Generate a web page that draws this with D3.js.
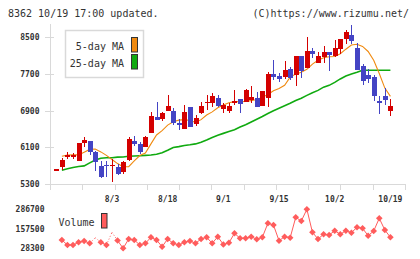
<!DOCTYPE html>
<html>
<head>
<meta charset="utf-8">
<script src="https://cdn.jsdelivr.net/npm/d3@7"></script>
<style>
  html, body { margin: 0; padding: 0; background: #fff; }
  svg { display: block; }
  text { font-family: "DejaVu Sans Mono", "Liberation Mono", monospace; fill: #333; }
</style>
</head>
<body>
<svg id="chart" width="420" height="259"></svg>
<script>
// ---- data ----
const openP  = [5615,5672,5890,5877,5803,6196,6233,6000,5694,5709,5700,5672,5549,5818,6233,6161,6109,6415,6765,6714,
                6890,6889,6620,6496,6970,6605,6839,7070,7071,7167,6933,6896,7057,7152,7093,7130,7180,7005,7167,7698,
                7654,7639,7807,7676,8091,7836,8201,7945,8077,8179,8085,8252,8457,8544,8267,7873,7683,7632,7108,7217,6883];
const highP  = [5615,5862,5993,5978,6190,6327,6240,6010,5796,5790,5850,5740,5790,6327,6343,6218,6343,6861,7093,6874,
                7239,6954,6710,7020,6975,6802,7093,7239,7289,7239,7071,7057,7348,7160,7377,7436,7305,7330,7735,8004,
                7727,7982,7858,8095,8095,8513,8260,8186,8310,8185,8435,8457,8653,8776,8384,7923,7814,7670,7217,7392,7158];
const lowP   = [5615,5600,5833,5833,5795,6109,5927,5584,5431,5450,5344,5500,5510,5796,6124,5949,6102,6400,6686,6677,
                6889,6583,6480,6496,6540,6561,6824,6911,6983,6983,6839,6839,7020,6839,7079,7071,6980,7000,6983,7567,
                7516,7589,7567,7442,7604,7822,8055,7940,7945,7757,8080,8128,8354,8354,7779,7451,7508,7108,6830,7027,6780];
const closeP = [5615,5818,5921,5934,6183,6255,5986,5768,5453,5680,5712,5520,5774,6277,6170,6000,6327,6780,6700,6845,
                6999,6620,6590,6874,6546,6730,6999,7090,7217,6990,7020,6999,7108,7049,7348,7202,6983,7327,7698,7639,
                7590,7785,7617,8091,7763,8201,8135,8091,8186,8106,8267,8457,8617,8413,7779,7545,7595,7217,7071,7123,6999];
const ma5  = [null,5900,5925,5930,5930,5990,6050,6058,5995,5920,5830,5740,5672,5672,5800,5915,5970,6170,6365,6460,
              6580,6655,6690,6700,6680,6640,6700,6800,6870,6960,7020,7070,7093,7093,7100,7115,7140,7190,7250,7330,
              7380,7450,7630,7695,7735,7800,7915,8000,8055,8075,8080,8140,8240,8330,8347,8300,8190,8000,7710,7390,7210];
const ma25 = [null,5595,5625,5655,5675,5690,5755,5818,5855,5868,5868,5880,5885,5900,5905,5912,5920,5927,5943,5975,
              6030,6090,6110,6135,6150,6170,6205,6255,6310,6360,6400,6440,6480,6540,6590,6650,6710,6770,6835,6895,
              6950,7005,7060,7120,7170,7230,7290,7340,7410,7450,7515,7590,7655,7700,7735,7779,7779,7779,7779,7779,7779];
const volume = [null,83300,50200,50200,68000,76700,61400,98500,68000,50200,134300,80000,28300,89900,83300,50200,61400,101200,83300,38900,
                89900,61400,50200,68000,76700,61400,89900,101200,61400,105200,53500,64700,127700,94600,94600,105200,87900,101200,194000,182700,
                78700,105200,98500,233700,209200,286700,134300,89900,121100,116400,144900,121100,144900,131700,167400,160800,111800,142900,227100,149600,101200];
const volumeFaint = [7, 10];
const priceTicks  = [5300, 6100, 6900, 7700, 8500];
const volumeTicks = [28300, 157500, 286700];
const dateLabels  = ["8/3", "8/18", "9/1", "9/15", "10/2", "10/19"];
const dateLabelIdx = [10, 20, 30, 40, 50, 60];
const headerLeft  = "8362 10/19 17:00 updated.";
const headerRight = "(C)https://www.rizumu.net/";

// ---- drawing ----
const svg = d3.select("#chart");
const n = closeP.length;
const x = d3.scaleLinear().domain([0, n - 1]).range([56.3, 390.4]);
const y = d3.scaleLinear().domain([5300, 8500]).range([183.7, 37.3]);
const yv = d3.scaleLinear().domain([28300, 286700]).range([248.3, 209.3]);
const gridX = d3.scaleLinear().domain([0, 11]).range([50.5, 405.5]);

const RED = "#d40000", BLUE = "#4444c4", ORANGE = "#f08a10", GREEN = "#10aa10", VOL = "#ff5c5c", GRID = "#d9d9d9";

// header
svg.append("text").attr("x", 8).attr("y", 17).attr("font-size", 10).text(headerLeft);
svg.append("text").attr("x", 409).attr("y", 17).attr("font-size", 10).attr("text-anchor", "end").text(headerRight);

// axes lines
const g = svg.append("g").attr("shape-rendering", "crispEdges");
g.append("line").attr("x1", 50.5).attr("x2", 50.5).attr("y1", 24).attr("y2", 190).attr("stroke", GRID).attr("stroke-width", 1);
g.append("line").attr("x1", 50).attr("x2", 406).attr("y1", 184.5).attr("y2", 184.5).attr("stroke", GRID).attr("stroke-width", 1.5);
g.selectAll(".xt").data(d3.range(12)).join("line")
  .attr("x1", d => gridX(d)).attr("x2", d => gridX(d)).attr("y1", 184).attr("y2", 190)
  .attr("stroke", GRID).attr("stroke-width", 1);
g.selectAll(".yt").data(priceTicks).join("line")
  .attr("x1", 45).attr("x2", 54).attr("y1", d => Math.round(y(d)) + 0.5).attr("y2", d => Math.round(y(d)) + 0.5)
  .attr("stroke", GRID).attr("stroke-width", 1);

// price tick labels
svg.selectAll(".yl").data(priceTicks).join("text")
  .attr("x", 39.5).attr("y", d => y(d) + 3).attr("font-size", 8).attr("font-weight", "bold")
  .attr("text-anchor", "end").text(d => d);

// date labels
svg.selectAll(".xl").data(dateLabels).join("text")
  .attr("x", (d, i) => x(dateLabelIdx[i])).attr("y", 201.5).attr("font-size", 8).attr("font-weight", "bold")
  .attr("text-anchor", "middle").text(d => d);

// moving averages
const lineP = d3.line().defined(d => d[1] != null).x(d => x(d[0])).y(d => y(d[1]));
svg.append("path").datum(ma25.map((v, i) => [i, v])).attr("d", lineP)
  .attr("fill", "none").attr("stroke", GREEN).attr("stroke-width", 1.6);
svg.append("path").datum(ma5.map((v, i) => [i, v])).attr("d", lineP)
  .attr("fill", "none").attr("stroke", ORANGE).attr("stroke-width", 1.1);

// candles
const cw = 5;
const cg = svg.append("g").attr("shape-rendering", "crispEdges");
const idx = d3.range(n);
cg.selectAll(".wick").data(idx).join("line")
  .attr("x1", i => Math.round(x(i)) + 0.5).attr("x2", i => Math.round(x(i)) + 0.5)
  .attr("y1", i => y(highP[i])).attr("y2", i => y(lowP[i]))
  .attr("stroke", i => closeP[i] >= openP[i] ? RED : BLUE).attr("stroke-width", 1);
cg.selectAll(".body").data(idx).join("rect")
  .attr("x", i => Math.round(x(i)) + 0.5 - cw / 2)
  .attr("width", cw)
  .attr("y", i => y(Math.max(openP[i], closeP[i])))
  .attr("height", i => Math.max(1.5, Math.abs(y(openP[i]) - y(closeP[i]))))
  .attr("fill", i => closeP[i] >= openP[i] ? RED : BLUE);

// price legend
svg.append("rect").attr("x", 65.5).attr("y", 30.5).attr("width", 78).attr("height", 47)
  .attr("fill", "#fff").attr("stroke", GRID).attr("stroke-width", 1.5);
svg.append("text").attr("x", 124).attr("y", 49.5).attr("font-size", 10).attr("text-anchor", "end").text("5-day MA");
svg.append("text").attr("x", 124).attr("y", 66.5).attr("font-size", 10).attr("text-anchor", "end").text("25-day MA");
svg.append("rect").attr("x", 131.5).attr("y", 37.5).attr("width", 6).attr("height", 14.5)
  .attr("fill", ORANGE).attr("stroke", "#333").attr("stroke-width", 1);
svg.append("rect").attr("x", 131.5).attr("y", 54.5).attr("width", 6).attr("height", 14.5)
  .attr("fill", GREEN).attr("stroke", "#333").attr("stroke-width", 1);

// volume panel
svg.selectAll(".vl").data(volumeTicks).join("text")
  .attr("x", 44.5).attr("y", d => yv(d) + 3).attr("font-size", 8).attr("font-weight", "bold")
  .attr("text-anchor", "end").text(d => d);
svg.append("text").attr("x", 58.5).attr("y", 225.5).attr("font-size", 10).text("Volume");
svg.append("rect").attr("x", 101.5).attr("y", 213.5).attr("width", 5.5).attr("height", 14.5)
  .attr("fill", VOL).attr("stroke", "#333").attr("stroke-width", 1);

const segs = [];
for (let i = 1; i < n; i++) {
  if (volume[i - 1] == null || volume[i] == null) continue;
  segs.push({ a: i - 1, b: i, faint: volumeFaint.includes(i - 1) || volumeFaint.includes(i) });
}
svg.selectAll(".vs").data(segs).join("line")
  .attr("x1", d => x(d.a)).attr("x2", d => x(d.b))
  .attr("y1", d => yv(volume[d.a])).attr("y2", d => yv(volume[d.b]))
  .attr("stroke", VOL).attr("stroke-width", 1)
  .attr("stroke-dasharray", d => d.faint ? "1,2" : null);
svg.selectAll(".vm").data(idx.filter(i => volume[i] != null && !volumeFaint.includes(i))).join("path")
  .attr("transform", i => `translate(${x(i)},${yv(volume[i])})`)
  .attr("d", "M0,-3.3L3.3,0L0,3.3L-3.3,0Z")
  .attr("fill", VOL);
</script>
</body>
</html>
